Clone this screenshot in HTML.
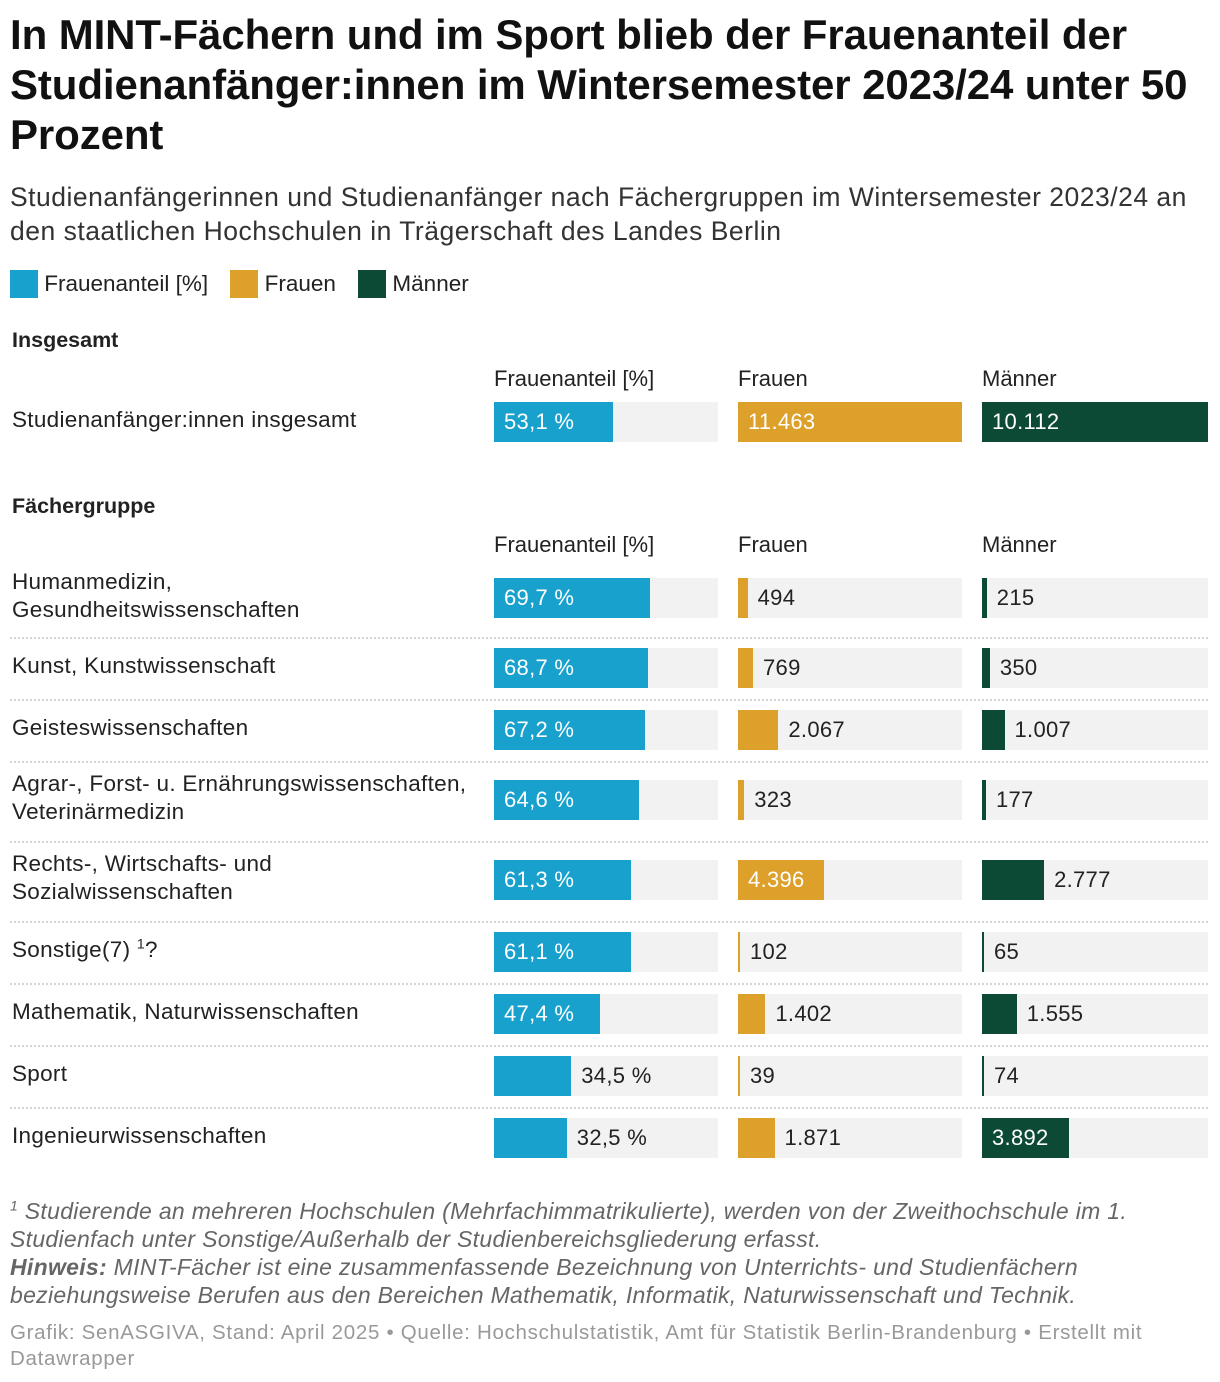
<!DOCTYPE html>
<html><head><meta charset="utf-8">
<style>
body{margin:0;background:#fff;font-family:"Liberation Sans",sans-serif;color:#222;}
#root{position:relative;width:1220px;height:1382px;overflow:hidden}
.abs{position:absolute;white-space:nowrap}
.t{font-weight:bold;font-size:42px;left:10px;color:#111;line-height:50px;letter-spacing:-0.1px}
.sub{font-size:26.5px;left:10px;color:#333;line-height:34px;letter-spacing:0.5px}
.lab{font-size:22.5px;color:#222;line-height:28px;letter-spacing:0.3px}
.hdr{font-size:22px;color:#222}
.sec{font-size:21.5px;font-weight:bold;color:#222}
.bg{position:absolute;background:#f2f2f2;height:40px}
.bar{position:absolute;height:40px}
.val{position:absolute;font-size:22px;line-height:40px;letter-spacing:0.3px}
.sep{position:absolute;left:10px;width:1198px;border-top:2px dotted #d4d4d4;height:0}
.foot{font-size:23px;font-style:italic;color:#666;left:10px;line-height:28px;letter-spacing:0.3px}
.src{font-size:20.5px;color:#999;left:10px;line-height:26px;letter-spacing:0.7px}
</style></head><body>
<div id="root">
<div class="abs t" style="top:10px">In MINT-Fächern und im Sport blieb der Frauenanteil der<br>Studienanfänger:innen im Wintersemester 2023/24 unter 50<br>Prozent</div>
<div class="abs sub" style="top:180px">Studienanfängerinnen und Studienanfänger nach Fächergruppen im Wintersemester 2023/24 an<br>den staatlichen Hochschulen in Trägerschaft des Landes Berlin</div>
<div class="abs" style="top:270px;left:10px;font-size:22.5px;line-height:28px">
<span><span style="display:inline-block;width:28px;height:28px;background:#18a1cd;vertical-align:top"></span> Frauenanteil [%]</span>
<span style="margin-left:16px"><span style="display:inline-block;width:28px;height:28px;background:#dca02b;vertical-align:top"></span> Frauen</span>
<span style="margin-left:16px"><span style="display:inline-block;width:28px;height:28px;background:#0c4a36;vertical-align:top"></span> Männer</span>
</div>
<div class="abs sec" style="top:328px;left:12px">Insgesamt</div>
<div class="abs sec" style="top:494px;left:12px">Fächergruppe</div>
</div>
<script>
const totalLabels=["Studienanfänger:innen insgesamt"];
const totalShare=[53.1];
const totalF=[11463];
const totalM=[10112];
const categories=["Humanmedizin,<br>Gesundheitswissenschaften","Kunst, Kunstwissenschaft","Geisteswissenschaften","Agrar-, Forst- u. Ernährungswissenschaften,<br>Veterinärmedizin","Rechts-, Wirtschafts- und<br>Sozialwissenschaften","Sonstige(7) <sup style='font-size:14px;line-height:0'>1</sup>?","Mathematik, Naturwissenschaften","Sport","Ingenieurwissenschaften"];
const share=[69.7,68.7,67.2,64.6,61.3,61.1,47.4,34.5,32.5];
const frauen=[494,769,2067,323,4396,102,1402,39,1871];
const maenner=[215,350,1007,177,2777,65,1555,74,3892];
const root=document.getElementById('root');
const cols=[{x:494,w:224,c:'#18a1cd',max:100},{x:738,w:224,c:'#dca02b',max:11463},{x:982,w:226,c:'#0c4a36',max:10112}];
function fmtNum(v){return v.toLocaleString('de-DE');}
function fmtPct(v){return v.toFixed(1).replace('.',',')+' %';}
function scale(ci,v){return cols[ci].w*v/cols[ci].max;}
function headers(y){
  ["Frauenanteil [%]","Frauen","Männer"].forEach((h,i)=>{
    const d=document.createElement('div');d.className='abs hdr';
    d.style.left=cols[i].x+'px';d.style.top=y+'px';d.textContent=h;
    
    
    root.appendChild(d);
  });
}
function row(label,vals,cy,twoLine){
  const l=document.createElement('div');l.className='abs lab';
  l.style.left='12px';l.style.top=(twoLine?cy-30:cy-16)+'px';l.innerHTML=label;
  
  
  root.appendChild(l);
  vals.forEach((v,i)=>{
    const col=cols[i];
    const bg=document.createElement('div');bg.className='bg';
    bg.style.left=col.x+'px';bg.style.top=(cy-20)+'px';bg.style.width=col.w+'px';
    
    
    root.appendChild(bg);
    const w=scale(i,v);
    const b=document.createElement('div');b.className='bar';
    b.style.left=col.x+'px';b.style.top=(cy-20)+'px';b.style.width=Math.max(w,2)+'px';b.style.background=col.c;
    
    
    root.appendChild(b);
    const t=document.createElement('div');t.className='val';
    t.style.top=(cy-20)+'px';
    t.textContent=i==0?fmtPct(v):fmtNum(v);
    if(w>80){t.style.left=(col.x+10)+'px';t.style.color='#fff';}
    else{t.style.left=(col.x+Math.max(w,2)+10)+'px';t.style.color='#222';}
    
    
    root.appendChild(t);
  });
}
headers(366);
row(totalLabels[0],[totalShare[0],totalF[0],totalM[0]],422,false);
headers(532);
const cys=[598,668,730,800,880,952,1014,1076,1138];
const seps=[637,699,761,841,921,983,1045,1107];
categories.forEach((c,i)=>row(c,[share[i],frauen[i],maenner[i]],cys[i],c.includes('<br>')));
seps.forEach(y=>{const s=document.createElement('div');s.className='sep';s.style.top=y+'px';


root.appendChild(s);});
const f=document.createElement('div');f.className='abs foot';f.style.top='1197px';
f.innerHTML="<sup style='font-size:14px;line-height:0'>1</sup> Studierende an mehreren Hochschulen (Mehrfachimmatrikulierte), werden von der Zweithochschule im 1.<br>Studienfach unter Sonstige/Außerhalb der Studienbereichsgliederung erfasst.<br><b>Hinweis:</b> MINT-Fächer ist eine zusammenfassende Bezeichnung von Unterrichts- und Studienfächern<br>beziehungsweise Berufen aus den Bereichen Mathematik, Informatik, Naturwissenschaft und Technik.";


root.appendChild(f);
const s=document.createElement('div');s.className='abs src';s.style.top='1320px';
s.innerHTML="Grafik: SenASGIVA, Stand: April 2025 • Quelle: Hochschulstatistik, Amt für Statistik Berlin-Brandenburg • Erstellt mit<br>Datawrapper";


root.appendChild(s);
</script>
</body></html>
